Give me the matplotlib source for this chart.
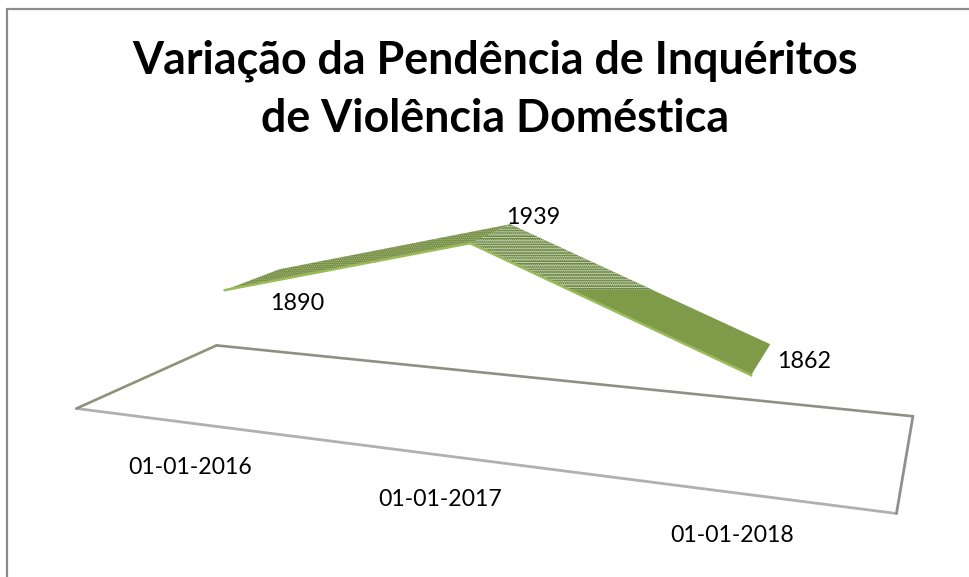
import numpy as np
import matplotlib
matplotlib.use("Agg")
import matplotlib.pyplot as plt
from matplotlib.patches import Polygon, Rectangle

TITLE = "Variação da Pendência de Inquéritos\nde Violência Doméstica"
DATES = ["01-01-2016", "01-01-2017", "01-01-2018"]
VALUES = [1890, 1939, 1862]
AXIS_MIN = 1800

# camera of the excel 3d view: (category, value height, depth) to pixels
CAMERA = np.array([
    [216.106, -8.72132, 186.465, 187.385],
    [-2.36752, -137.328, 0.0254061, 422.699],
    [-0.0753341, -0.0246201, 0.189649, 1.0],
])
RIBBON_FRONT = 0.28
RIBBON_BACK = 0.70
OLIVE = "#7f9a48"
OLIVE_EDGE = "#9bbb59"


def project(u, value, w):
    h = CAMERA @ np.array([u, (value - AXIS_MIN) / 100, w, 1.0])
    return h[0] / h[2], h[1] / h[2]


def ribbon_segment(i):
    return [
        project(i, VALUES[i], RIBBON_FRONT),
        project(i + 1, VALUES[i + 1], RIBBON_FRONT),
        project(i + 1, VALUES[i + 1], RIBBON_BACK),
        project(i, VALUES[i], RIBBON_BACK),
    ]


plt.rcParams["font.family"] = ["Lato", "DejaVu Sans"]
plt.rcParams["hatch.linewidth"] = 0.4

fig = plt.figure(figsize=(9.7, 5.77), dpi=100)
ax = fig.add_axes([0, 0, 1, 1])
ax.set_xlim(0, 970)
ax.set_ylim(577, 0)
ax.axis("off")

# chart border, only top and left fall inside the picture
ax.plot([7, 7, 970], [577, 9, 9], color="#8c8c8c", lw=1.6, solid_joinstyle="miter")

# floor
left, right = -0.5, len(DATES) - 0.5
fl = project(left, AXIS_MIN, 0)
bl = project(left, AXIS_MIN, 1)
br = project(right, AXIS_MIN, 1)
fr = project(right, AXIS_MIN, 0)
for a, b, color, lw in [
    (fl, fr, "#b0b0b0", 2.0),
    (fl, bl, "#8d9278", 1.9),
    (bl, br, "#8e9084", 1.9),
    (br, fr, "#909090", 2.0),
]:
    ax.plot([a[0], b[0]], [a[1], b[1]], color=color, lw=lw, solid_capstyle="round")

# first ribbon segment, fine stipple
seg = ribbon_segment(0)
ax.add_patch(Polygon(seg, facecolor="#799248", edgecolor="none", zorder=3))
ax.add_patch(Polygon(seg, facecolor="none", edgecolor="#b3c497", hatch="........", lw=0, zorder=4))

# second segment solid below, stippled with pale streaks in the upper part
seg = ribbon_segment(1)
ax.add_patch(Polygon(seg, facecolor=OLIVE, edgecolor="none", zorder=3))
upper = Rectangle((0, 0), 970, 290, transform=ax.transData)
cover = Polygon(seg, facecolor="#6f8a48", edgecolor="none", zorder=4)
ax.add_patch(cover)
cover.set_clip_path(upper)
stipple = Polygon(seg, facecolor="none", edgecolor="#c3d0ad", hatch="........", lw=0, zorder=5)
ax.add_patch(stipple)
stipple.set_clip_path(upper)
streaks = Polygon(seg, facecolor="none", edgecolor="#dfe7d2", hatch="------", lw=0, zorder=5)
ax.add_patch(streaks)
streaks.set_clip_path(upper)

# lighter front edge of the ribbon
front = [project(i, VALUES[i], RIBBON_FRONT) for i in range(len(VALUES))]
ax.plot([p[0] for p in front], [p[1] for p in front], color=OLIVE_EDGE, lw=1.8, zorder=6)

# texts
ax.text(495, 90, TITLE, fontsize=32.2, fontweight="bold", ha="center", va="center",
        linespacing=1.46, color="black")
for value, (x, y) in zip(VALUES, [(297, 304), (533, 218), (804, 362)]):
    ax.text(x, y, str(value), fontsize=16.8, ha="center", va="center", color="black", zorder=7)
for date, (x, y) in zip(DATES, [(190, 467), (440, 499), (732, 535)]):
    ax.text(x, y, date, fontsize=16.6, ha="center", va="center", color="black")

fig.savefig("out.png", dpi=100)
